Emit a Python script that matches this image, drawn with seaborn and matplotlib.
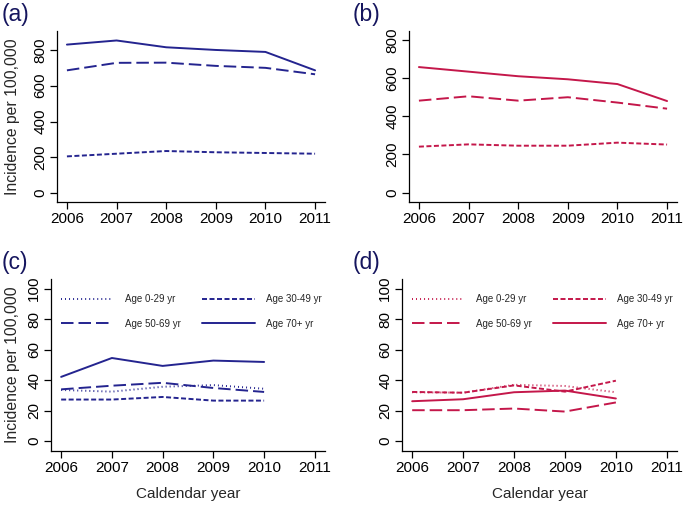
import matplotlib
matplotlib.use("Agg")
import matplotlib.pyplot as plt
import seaborn as sns
import pandas as pd

years = [2006, 2007, 2008, 2009, 2010, 2011]
years_c = [2006, 2007, 2008, 2009, 2010]

# Panel (a) (blue) and (b) (red): three series
a_low = [205, 220, 235, 228, 224, 220]
a_mid = [686, 728, 729, 711, 700, 664]
a_high = [830, 853, 815, 800, 789, 686]

b_low = [241, 253, 246, 246, 262, 252]
b_mid = [482, 505, 482, 500, 472, 440]
b_high = [658, 634, 610, 594, 569, 480]

# Panel (c) (blue) and (d) (red): four age groups
age_labels = ["Age 0-29 yr", "Age 30-49 yr", "Age 50-69 yr", "Age 70+ yr"]
c_0_29 = [33.5, 32.4, 35.6, 36.7, 34.3]
c_30_49 = [27.2, 27.2, 28.9, 26.5, 26.5]
c_50_69 = [33.9, 36.3, 38.2, 34.8, 32.2]
c_70 = [42.1, 54.5, 49.3, 52.8, 51.9]

d_0_29 = [32.0, 31.7, 36.9, 36.1, 32.0]
d_30_49 = [32.2, 31.7, 36.5, 32.4, 39.6]
d_50_69 = [20.2, 20.2, 21.3, 19.3, 25.3]
d_70 = [26.1, 27.4, 32.0, 33.1, 27.9]

BLUE = "#24248f"
RED = "#c4174a"
NAVY = "#15155e"

sns.set_style("white")
plt.rcParams["font.family"] = ["Liberation Sans", "DejaVu Sans"]
plt.rcParams["lines.scale_dashes"] = False

dash_map = {
    "Age 0-29 yr": (0.7, 2.2),
    "Age 30-49 yr": (3.6, 1.8),
    "Age 50-69 yr": (9.0, 3.6),
    "Age 70+ yr": "",
}


def long_df(xs, series):
    rows = []
    for name, vals in series.items():
        for x, v in zip(xs, vals):
            rows.append({"year": x, "value": v, "series": name})
    return pd.DataFrame(rows)


fig = plt.figure(figsize=(6.85, 5.05), dpi=100)
W, H = 685, 505


def add_ax(l, r, t, b):
    return fig.add_axes([l / W, 1 - b / H, (r - l) / W, (b - t) / H])


ax_a = add_ax(57, 325, 31, 202)
ax_b = add_ax(409, 677, 31, 202)
ax_c = add_ax(51, 325, 279, 451)
ax_d = add_ax(402, 677, 279, 451)

top_order = ["Age 30-49 yr", "Age 50-69 yr", "Age 70+ yr"]
df_a = long_df(years, dict(zip(top_order, [a_low, a_mid, a_high])))
df_b = long_df(years, dict(zip(top_order, [b_low, b_mid, b_high])))
df_c = long_df(years_c, dict(zip(age_labels, [c_0_29, c_30_49, c_50_69, c_70])))
df_d = long_df(years_c, dict(zip(age_labels, [d_0_29, d_30_49, d_50_69, d_70])))

panels = [
    (ax_a, df_a, BLUE, top_order, (-50, 906), [0, 200, 400, 600, 800]),
    (ax_b, df_b, RED, top_order, (-49, 847), [0, 200, 400, 600, 800]),
    (ax_c, df_c, BLUE, age_labels, (-6.6, 106.4), [0, 20, 40, 60, 80, 100]),
    (ax_d, df_d, RED, age_labels, (-6.6, 106.4), [0, 20, 40, 60, 80, 100]),
]

for ax, df, col, order, ylim, yt in panels:
    sns.lineplot(data=df, x="year", y="value", style="series", style_order=order,
                 dashes={k: dash_map[k] for k in order}, color=col, linewidth=1.4,
                 ax=ax, legend=False)
    ax.set_xlim(2005.8, 2011.2)
    ax.set_ylim(*ylim)
    ax.set_xticks(years)
    ax.set_yticks(yt)
    ax.tick_params(axis="both", direction="out", length=5, width=0.9,
                   labelsize=11, colors="black", pad=2, left=True, bottom=True)
    for lbl in ax.get_yticklabels():
        lbl.set_rotation(90)
        lbl.set_va("center")
    sns.despine(ax=ax)
    for s in ("left", "bottom"):
        ax.spines[s].set_color("black")
        ax.spines[s].set_linewidth(0.9)
    ax.set_xlabel("")
    ax.set_ylabel("")
    ax.grid(False)

# legends in (c) and (d)
leg_order = ["Age 0-29 yr", "Age 50-69 yr", "Age 30-49 yr", "Age 70+ yr"]
for ax in (ax_c, ax_d):
    line_by = dict(zip(age_labels, ax.lines[:4]))
    ax.legend([line_by[k] for k in leg_order], leg_order, ncol=2, frameon=False,
              fontsize=7, handlelength=5.4, handletextpad=1.2, columnspacing=2.2,
              labelspacing=1.45, borderpad=0, borderaxespad=0,
              loc="upper left", bbox_to_anchor=(0.035, 0.91))

fig.text(13 / W, 1 - 117 / H, "Incidence per 100,000", rotation=90,
         ha="center", va="center", fontsize=11.3)
fig.text(13 / W, 1 - 365 / H, "Incidence per 100,000", rotation=90,
         ha="center", va="center", fontsize=11.3)
fig.text(188 / W, 1 - 494 / H, "Caldendar year", ha="center", va="center", fontsize=11)
fig.text(540 / W, 1 - 494 / H, "Calendar year", ha="center", va="center", fontsize=11)

for x, y, t in [(2, 15, "(a)"), (353, 15, "(b)"), (2, 263, "(c)"), (353, 263, "(d)")]:
    fig.text(x / W, 1 - y / H, t, ha="left", va="center", fontsize=16.5, color=NAVY)

fig.savefig("out.png", dpi=100)
